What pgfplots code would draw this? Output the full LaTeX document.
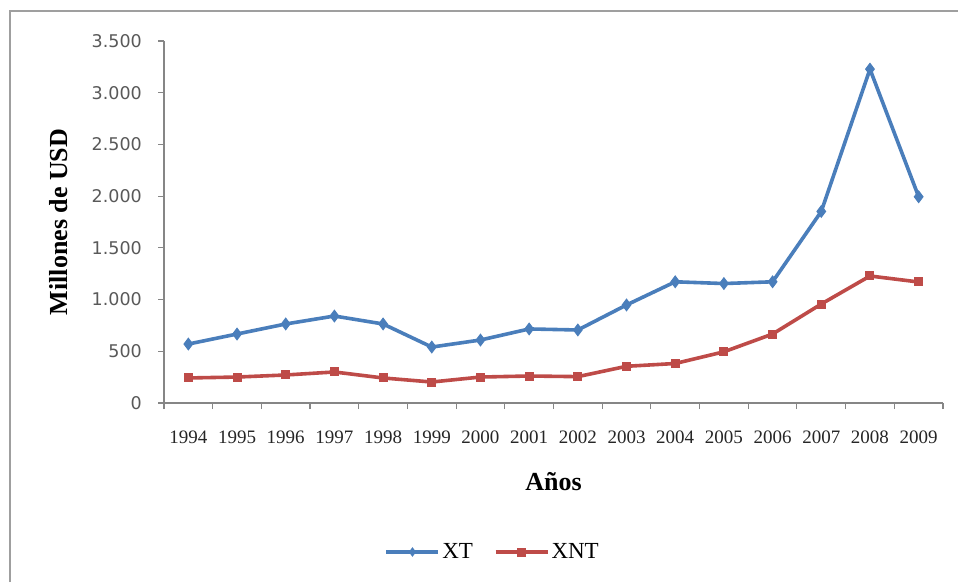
\documentclass[border=0pt]{standalone}
\usepackage{fontspec}
\setmainfont{Liberation Serif}
\newfontfamily\tickfont{DejaVu Sans}
\usepackage{pgfplots}
\pgfplotsset{compat=1.18}
\definecolor{xt}{HTML}{4A7EBB}
\definecolor{xnt}{HTML}{BE4B48}
\definecolor{axisgray}{HTML}{868686}

\begin{document}
\begin{tikzpicture}
  \path[use as bounding box] (0,0) rectangle (958pt,582pt);
  \draw[line width=1.5pt, draw=gray!75] (10pt,0) -- (10pt,571pt) -- (958pt,571pt);
  \begin{axis}[
      at={(164pt,179pt)}, anchor=south west,
      scale only axis, width=779pt, height=362pt,
      xmin=1993.5, xmax=2009.5, ymin=0, ymax=3500,
      axis lines*=left,
      axis line style={draw=axisgray, line width=1.2pt},
      tick align=outside,
      major tick length=6pt,
      tick style={draw=axisgray, line width=1.2pt},
      xtick={1993.5,1994.5,...,2009.5},
      xticklabels={},
      extra x ticks={1994,1995,...,2009},
      extra x tick labels={1994,1995,1996,1997,1998,1999,2000,2001,2002,2003,2004,2005,2006,2007,2008,2009},
      extra x tick style={major tick length=0pt, tick style={draw=none}},
      xticklabel style={font=\fontsize{19}{20}\selectfont, text=black!85, anchor=center, inner sep=0pt, yshift=-34pt},
      ytick={0,500,...,3500},
      /pgf/number format/assume math mode=true,
      yticklabel style={font=\tickfont\fontsize{17.5}{20}\selectfont, text=black!65, anchor=east, inner sep=0pt, xshift=-16pt,
        /pgf/number format/.cd, 1000 sep={.}},
      xlabel={Años},
      xlabel style={at={(axis description cs:0.5,-0.2182)}, anchor=center, font=\bfseries\fontsize{26}{28}\selectfont},
      ylabel={Millones de USD},
      ylabel style={at={(axis description cs:-0.1348,0.5)}, anchor=center, font=\bfseries\fontsize{26}{28}\selectfont},
      legend style={at={(axis description cs:0.422,-0.4116)}, anchor=center, draw=none, fill=none,
        legend columns=2, font=\fontsize{23}{25}\selectfont,
        /tikz/every even column/.append style={column sep=19pt}},
      legend image code/.code={\draw[mark repeat=2, mark phase=2, mark size=4pt] plot coordinates {(0pt,0pt) (26pt,0pt) (52pt,0pt)};},
    ]
    \addplot[xt, line width=3.6pt, mark=diamond*, mark size=5.8pt, mark options={solid, line width=1pt}] coordinates {
      (1994,570) (1995,667) (1996,764) (1997,841) (1998,764) (1999,541)
      (2000,609) (2001,716) (2002,706) (2003,948) (2004,1172) (2005,1155)
      (2006,1172) (2007,1852) (2008,3228) (2009,1994)};
    \addplot[xnt, line width=3.6pt, mark=square*, mark size=4pt, mark options={solid, line width=1pt}] coordinates {
      (1994,242) (1995,251) (1996,271) (1997,300) (1998,242) (1999,203)
      (2000,251) (2001,261) (2002,255) (2003,355) (2004,382) (2005,495)
      (2006,667) (2007,957) (2008,1228) (2009,1170)};
    \legend{XT,XNT}
  \end{axis}
\end{tikzpicture}
\end{document}
